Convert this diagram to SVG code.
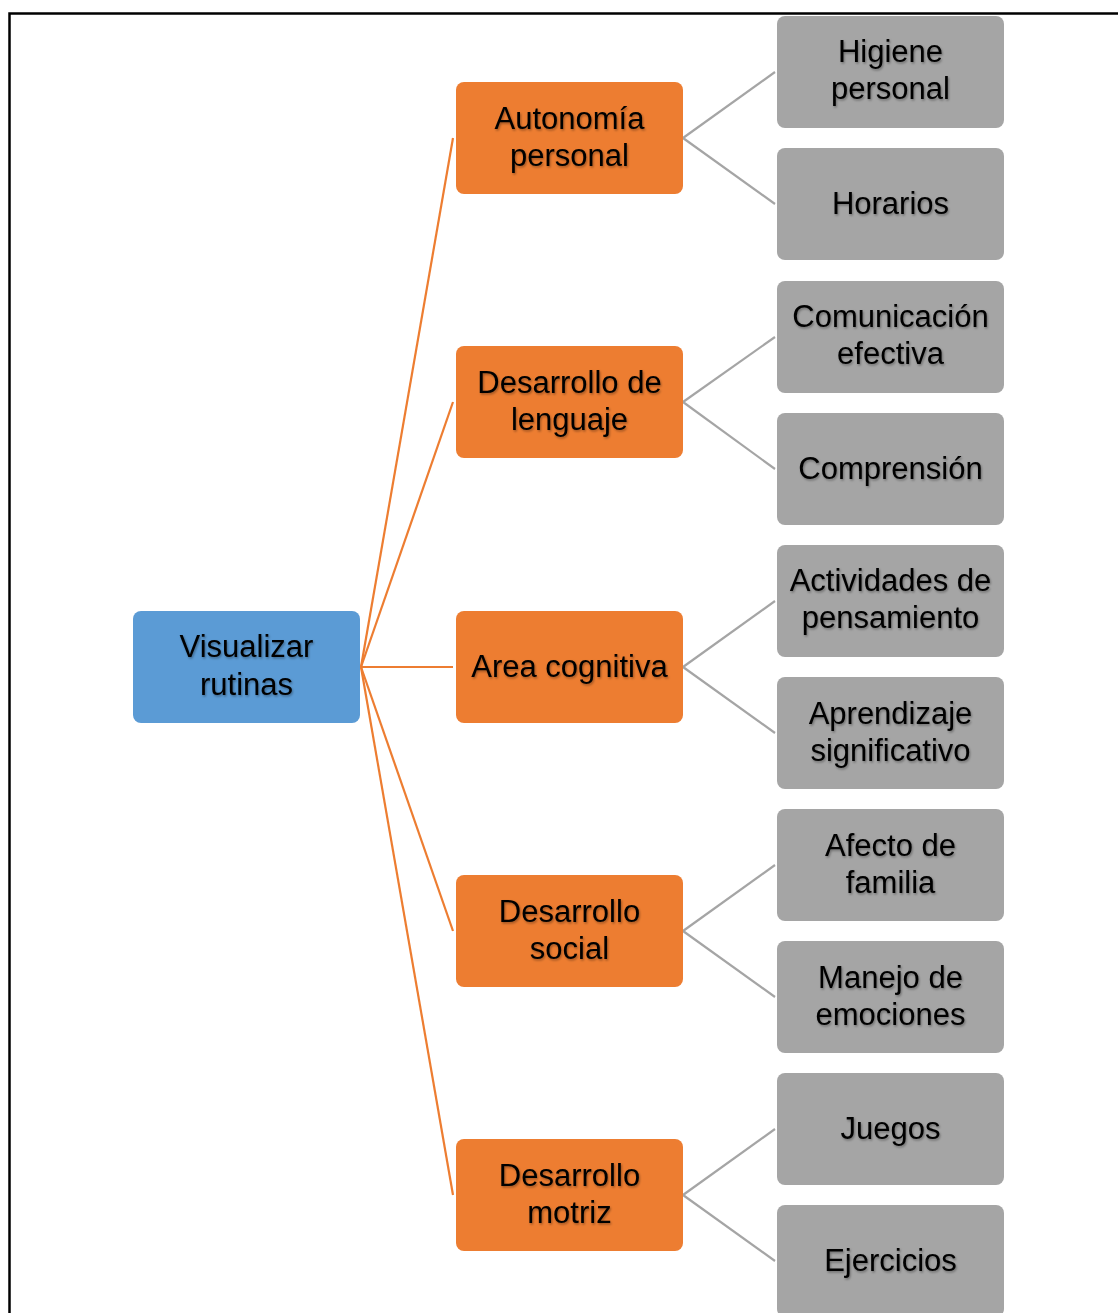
<svg xmlns="http://www.w3.org/2000/svg" width="1118" height="1313" viewBox="0 0 1118 1313">
<defs>
<filter id="ts" x="-10%" y="-10%" width="120%" height="130%">
<feDropShadow dx="1" dy="1.5" stdDeviation="0.8" flood-color="#000" flood-opacity="0.35"/>
</filter>
</defs>
<style>
.root{fill:#5B9BD5}
.mid{fill:#ED7D31}
.leaf{fill:#A5A5A5}
text{font-family:"Liberation Sans",Arial,sans-serif;font-size:31px;fill:#000;text-anchor:middle;filter:url(#ts)}
.oc{stroke:#ED7D31;stroke-width:2.2;fill:none}
.gc{stroke:#A5A5A5;stroke-width:2.2;fill:none}
</style>
<rect x="9.5" y="13.5" width="1130" height="1320" fill="#fff" stroke="#000" stroke-width="2.5"/>
<g id="connectors">
<line class="oc" x1="361" y1="667" x2="453" y2="138"/>
<line class="oc" x1="361" y1="667" x2="453" y2="402"/>
<line class="oc" x1="361" y1="667" x2="453" y2="667"/>
<line class="oc" x1="361" y1="667" x2="453" y2="931"/>
<line class="oc" x1="361" y1="667" x2="453" y2="1195"/>
<line class="gc" x1="683" y1="138" x2="775" y2="72"/>
<line class="gc" x1="683" y1="138" x2="775" y2="204"/>
<line class="gc" x1="683" y1="402" x2="775" y2="337"/>
<line class="gc" x1="683" y1="402" x2="775" y2="469"/>
<line class="gc" x1="683" y1="667" x2="775" y2="601"/>
<line class="gc" x1="683" y1="667" x2="775" y2="733"/>
<line class="gc" x1="683" y1="931" x2="775" y2="865"/>
<line class="gc" x1="683" y1="931" x2="775" y2="997"/>
<line class="gc" x1="683" y1="1195" x2="775" y2="1129"/>
<line class="gc" x1="683" y1="1195" x2="775" y2="1261"/>
</g>
<g id="n-root"><rect class="root" x="133" y="611" width="227" height="112" rx="8"/><text x="246.5" y="657">Visualizar</text><text x="246.5" y="695">rutinas</text></g>
<g id="n-autonomia"><rect class="mid" x="456" y="82" width="227" height="112" rx="8"/><text x="569.5" y="129">Autonomía</text><text x="569.5" y="166">personal</text></g>
<g id="n-lenguaje"><rect class="mid" x="456" y="346" width="227" height="112" rx="8"/><text x="569.5" y="393">Desarrollo de</text><text x="569.5" y="430">lenguaje</text></g>
<g id="n-cognitiva"><rect class="mid" x="456" y="611" width="227" height="112" rx="8"/><text x="569.5" y="677">Area cognitiva</text></g>
<g id="n-social"><rect class="mid" x="456" y="875" width="227" height="112" rx="8"/><text x="569.5" y="922">Desarrollo</text><text x="569.5" y="959">social</text></g>
<g id="n-motriz"><rect class="mid" x="456" y="1139" width="227" height="112" rx="8"/><text x="569.5" y="1186">Desarrollo</text><text x="569.5" y="1223">motriz</text></g>
<g id="n-higiene"><rect class="leaf" x="777" y="16" width="227" height="112" rx="8"/><text x="890.5" y="62">Higiene</text><text x="890.5" y="99">personal</text></g>
<g id="n-horarios"><rect class="leaf" x="777" y="148" width="227" height="112" rx="8"/><text x="890.5" y="214">Horarios</text></g>
<g id="n-comunicacion"><rect class="leaf" x="777" y="281" width="227" height="112" rx="8"/><text x="890.5" y="327">Comunicación</text><text x="890.5" y="364">efectiva</text></g>
<g id="n-comprension"><rect class="leaf" x="777" y="413" width="227" height="112" rx="8"/><text x="890.5" y="479">Comprensión</text></g>
<g id="n-actividades"><rect class="leaf" x="777" y="545" width="227" height="112" rx="8"/><text x="890.5" y="591">Actividades de</text><text x="890.5" y="628">pensamiento</text></g>
<g id="n-aprendizaje"><rect class="leaf" x="777" y="677" width="227" height="112" rx="8"/><text x="890.5" y="724">Aprendizaje</text><text x="890.5" y="761">significativo</text></g>
<g id="n-afecto"><rect class="leaf" x="777" y="809" width="227" height="112" rx="8"/><text x="890.5" y="856">Afecto de</text><text x="890.5" y="893">familia</text></g>
<g id="n-manejo"><rect class="leaf" x="777" y="941" width="227" height="112" rx="8"/><text x="890.5" y="988">Manejo de</text><text x="890.5" y="1025">emociones</text></g>
<g id="n-juegos"><rect class="leaf" x="777" y="1073" width="227" height="112" rx="8"/><text x="890.5" y="1139">Juegos</text></g>
<g id="n-ejercicios"><rect class="leaf" x="777" y="1205" width="227" height="112" rx="8"/><text x="890.5" y="1271">Ejercicios</text></g>
</svg>
